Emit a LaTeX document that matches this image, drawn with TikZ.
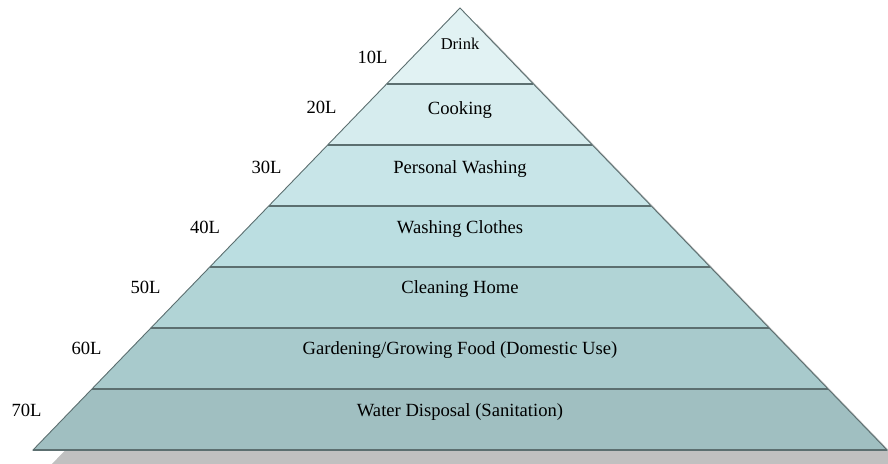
\documentclass[tikz,border=0pt]{standalone}
\usepackage{fontspec}
\setmainfont{Liberation Serif}
\usetikzlibrary{calc}
\definecolor{cA}{HTML}{E1F2F3}
\definecolor{cB}{HTML}{D6ECEE}
\definecolor{cC}{HTML}{C8E5E8}
\definecolor{cD}{HTML}{BBDEE1}
\definecolor{cE}{HTML}{B1D4D6}
\definecolor{cF}{HTML}{A8CACC}
\definecolor{cG}{HTML}{A0BFC1}
\definecolor{edgecol}{HTML}{5C6F70}
\definecolor{shadowcol}{HTML}{C0C0C0}
\begin{document}
\begin{tikzpicture}[x=1bp,y=-1bp,
  lbl/.style={font=\fontsize{18.6bp}{20bp}\selectfont, anchor=base, inner sep=0pt},
  small/.style={font=\fontsize{16.5bp}{18bp}\selectfont, anchor=base, inner sep=0pt},
  sepline/.style={draw=edgecol, line width=1.6bp},
  edgeline/.style={draw=edgecol, line width=0.9bp, line join=miter}]
\useasboundingbox (0,0) rectangle (888,464);
\coordinate (A) at (460,8);
\coordinate (BL) at (33,450);
\coordinate (BR) at (887,450);
\begin{scope}
  \clip (0,0) rectangle (888,464);
  \fill[shadowcol] ($(A)+(17,16)$) -- ($(BL)+(17,16)$) -- ($(BR)+(17,16)$) -- cycle;
\end{scope}
\foreach \ya/\yb/\c in {8/84/cA, 84/145/cB, 145/206/cC, 206/267/cD, 267/328/cE, 328/389/cF, 389/450/cG}{
  \fill[\c] ($(A)!{(\ya-8)/442}!(BL)$) -- ($(A)!{(\yb-8)/442}!(BL)$) -- ($(A)!{(\yb-8)/442}!(BR)$) -- ($(A)!{(\ya-8)/442}!(BR)$) -- cycle;
}
\draw[edgeline] (A) -- (BL) -- (BR) -- cycle;
\foreach \y in {84,145,206,267,328,389,450}{
  \draw[sepline] ($(A)!{(\y-8)/442}!(BL)$) -- ($(A)!{(\y-8)/442}!(BR)$);
}
\node[small] (drink) at (460,50) {Drink};
\node[lbl] (cooking) at (460,115) {Cooking};
\node[lbl] (personal) at (460,174) {Personal Washing};
\node[lbl] (clothes) at (460,234) {Washing Clothes};
\node[lbl] (cleaning) at (460,294) {Cleaning Home};
\node[lbl] (garden) at (460,355) {Gardening/Growing Food (Domestic Use)};
\node[lbl] (water) at (460,416) {Water Disposal (Sanitation)};
\node[lbl] (l10) at (372.5,64) {10L};
\node[lbl] (l20) at (321.5,114) {20L};
\node[lbl] (l30) at (266.5,174) {30L};
\node[lbl] (l40) at (205,234) {40L};
\node[lbl] (l50) at (145.5,294) {50L};
\node[lbl] (l60) at (86.5,355) {60L};
\node[lbl] (l70) at (26.5,416) {70L};
\end{tikzpicture}
\end{document}
